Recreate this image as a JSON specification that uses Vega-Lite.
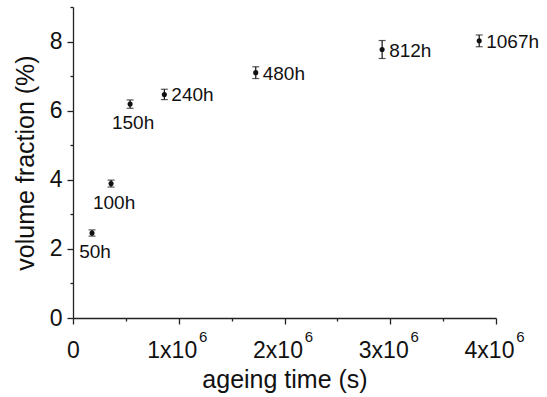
{
  "$schema": "https://vega.github.io/schema/vega-lite/v6.json",
  "autosize": "none",
  "width": 423,
  "height": 311,
  "padding": {"left": 73, "top": 7, "right": 51, "bottom": 79},
  "background": "white",
  "config": {
    "view": {"stroke": null},
    "font": "Liberation Sans",
    "axis": {
      "grid": false,
      "domainColor": "#222",
      "domainWidth": 1.3,
      "tickColor": "#222",
      "tickWidth": 1.3,
      "labelColor": "#111",
      "titleColor": "#111",
      "labelFont": "Liberation Sans",
      "titleFont": "Liberation Sans",
      "labelFontSize": 23,
      "titleFontSize": 25,
      "titleFontWeight": "normal"
    }
  },
  "resolve": {"axis": {"x": "independent"}},
  "data": {
    "values": [
      {"time": 180000, "vf": 2.46, "err": 0.09, "label": "50h"},
      {"time": 360000, "vf": 3.89, "err": 0.1, "label": "100h"},
      {"time": 540000, "vf": 6.19, "err": 0.12, "label": "150h"},
      {"time": 864000, "vf": 6.47, "err": 0.15, "label": "240h"},
      {"time": 1728000, "vf": 7.1, "err": 0.17, "label": "480h"},
      {"time": 2923200, "vf": 7.77, "err": 0.26, "label": "812h"},
      {"time": 3841200, "vf": 8.02, "err": 0.17, "label": "1067h"}
    ]
  },
  "encoding": {
    "y": {
      "field": "vf",
      "type": "quantitative",
      "scale": {"domain": [0, 9], "nice": false},
      "axis": {
        "title": "volume fraction (%)",
        "values": [0, 1, 2, 3, 4, 5, 6, 7, 8, 9],
        "labelExpr": "datum.value % 2 == 0 ? format(datum.value, 'd') : ''",
        "tickSize": {"condition": {"test": "datum.value % 2 != 0", "value": 3}, "value": 6},
        "labelPadding": 5,
        "labelFlush": false,
        "titleX": -40,
        "titleBaseline": "alphabetic"
      }
    }
  },
  "layer": [
    {
      "mark": {"type": "errorbar", "ticks": {"size": 7, "thickness": 1.2, "color": "#111"}, "rule": {"strokeWidth": 1.2, "color": "#111"}},
      "encoding": {
        "x": {
          "field": "time",
          "type": "quantitative",
          "scale": {"domain": [0, 4000000], "nice": false, "zero": true},
          "axis": {
            "orient": "bottom",
            "title": "ageing time (s)",
            "values": [0, 500000, 1000000, 1500000, 2000000, 2500000, 3000000, 3500000, 4000000],
            "labelExpr": "datum.value == 0 ? '0' : (datum.value % 1000000 == 0 ? format(datum.value / 1000000, 'd') + 'x10' : '')",
            "tickSize": {"condition": {"test": "datum.value % 1000000 != 0", "value": 3}, "value": 6},
            "labelOffset": {"condition": {"test": "datum.value == 0", "value": 0}, "value": -7},
            "labelPadding": 33,
            "labelBaseline": "alphabetic",
            "labelFlush": false,
            "titleY": 69,
            "titleBaseline": "alphabetic"
          }
        },
        "yError": {"field": "err"}
      }
    },
    {
      "mark": {"type": "circle", "size": 26, "color": "#111", "opacity": 1},
      "encoding": {
        "x": {
          "field": "time",
          "type": "quantitative",
          "scale": {"domain": [0, 4000000], "nice": false, "zero": true},
          "axis": {
            "orient": "bottom",
            "title": null,
            "domain": false,
            "tickSize": 0,
            "values": [1000000, 2000000, 3000000, 4000000],
            "labelExpr": "'6'",
            "labelFontSize": 15,
            "labelOffset": 24,
            "labelPadding": 23,
            "labelBaseline": "alphabetic",
            "labelFlush": false
          }
        }
      }
    },
    {
      "transform": [{"filter": "datum.time < 600000"}],
      "mark": {"type": "text", "align": "center", "baseline": "middle", "dx": 3, "dy": 19, "fontSize": 19, "font": "Liberation Sans", "color": "#111"},
      "encoding": {"x": {"field": "time", "type": "quantitative", "axis": null}, "text": {"field": "label"}}
    },
    {
      "transform": [{"filter": "datum.time > 600000"}],
      "mark": {"type": "text", "align": "left", "baseline": "middle", "dx": 7, "dy": 1, "fontSize": 19, "font": "Liberation Sans", "color": "#111"},
      "encoding": {"x": {"field": "time", "type": "quantitative", "axis": null}, "text": {"field": "label"}}
    }
  ]
}
